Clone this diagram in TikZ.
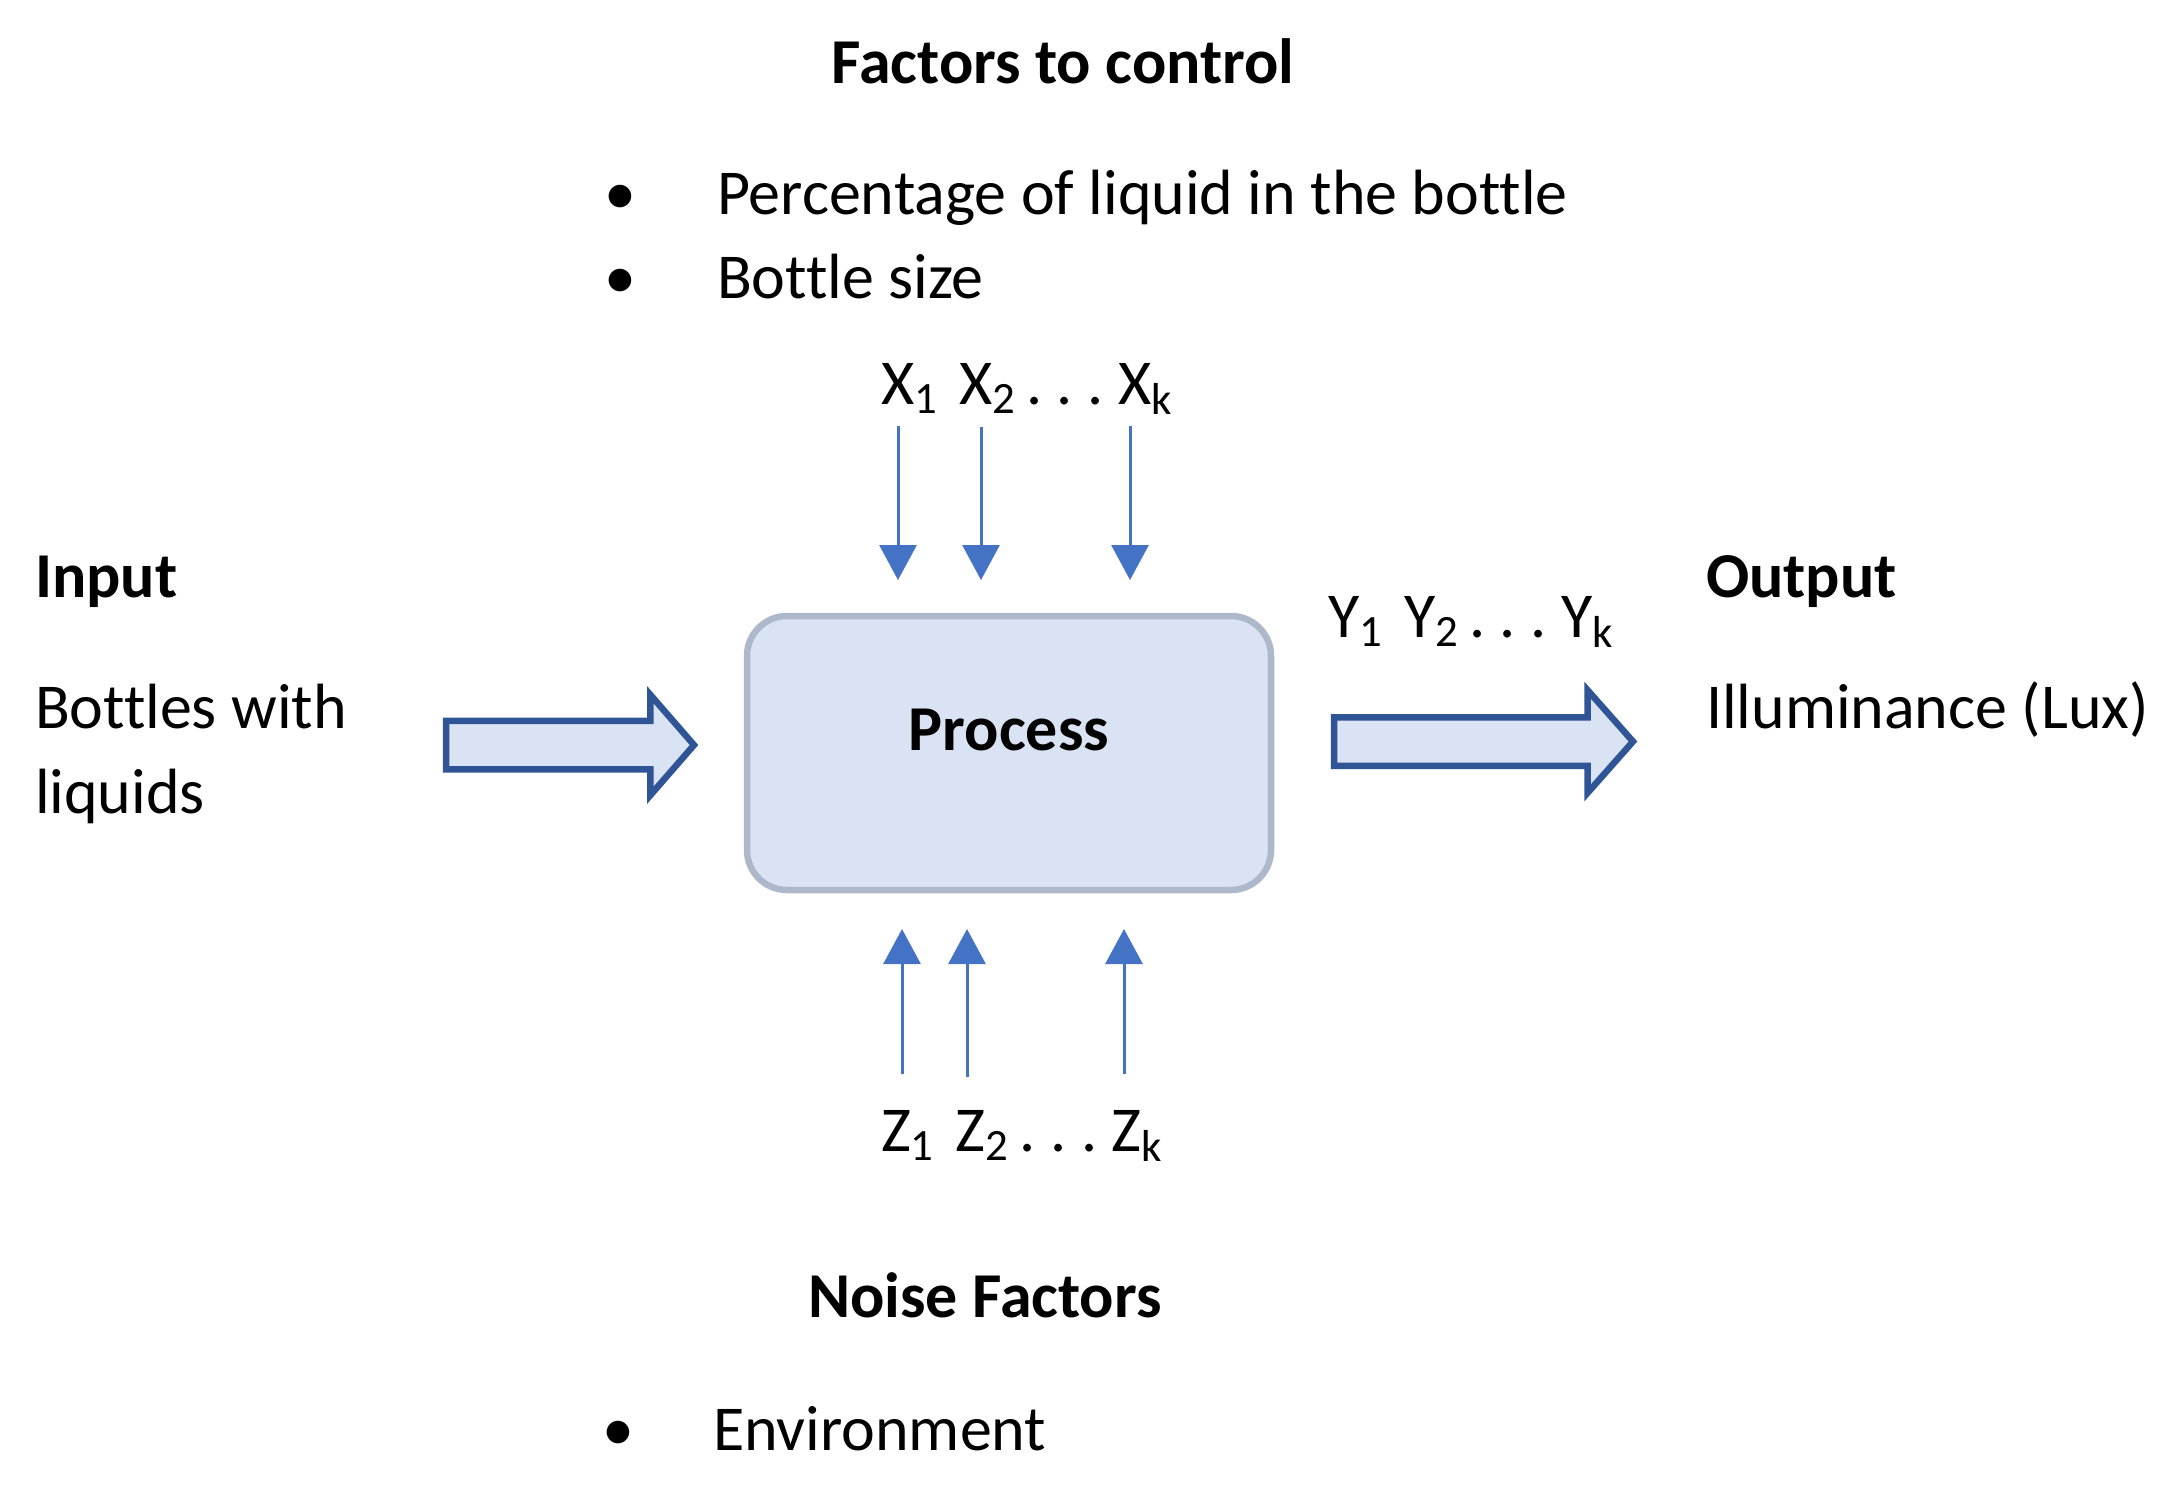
\documentclass[tikz,border=0pt]{standalone}
\usepackage{fontspec}
\setmainfont{Carlito}[Ligatures=NoCommon]
\usetikzlibrary{arrows.meta, shapes.arrows}

\definecolor{boxfill}{HTML}{DAE3F3}
\definecolor{boxline}{HTML}{ADB9CA}
\definecolor{fatline}{HTML}{2F5597}
\definecolor{factorblue}{HTML}{4472C4}

\begin{document}
\begin{tikzpicture}[font=\fontsize{18.2pt}{24pt}\selectfont, every node/.style={inner sep=0pt, outer sep=0pt, anchor=base west}, >={Triangle[width=0.37cm, length=0.35cm]},
	head/.style={font=\fontsize{18.2pt}{24pt}\selectfont\bfseries},
	factor/.style={->, color=factorblue, line width=0.85pt},
	fatarrow/.style={single arrow, draw=fatline, fill=boxfill, line width=1.85pt, anchor=tail, line join=miter, inner xsep=0pt, inner ysep=0.21cm},
	procbox/.style={draw=boxline, fill=boxfill, line width=1.85pt, rounded corners=0.4cm, minimum width=5.24cm, minimum height=2.74cm, anchor=center}]
	\useasboundingbox (0, 0) rectangle (21.71, -14.86);

	% Factors to control
	\node[head, anchor=base] (ctrltitle) at (10.63, -0.83) {Factors to control};
	\node[anchor=base] (dot1) at (6.20, -2.14) {•};
	\node (ctrl1) at (7.17, -2.14) {Percentage of liquid in the bottle};
	\node[anchor=base] (dot2) at (6.20, -2.98) {•};
	\node (ctrl2) at (7.17, -2.98) {Bottle size};
	\node (xlabels) at (8.81, -4.04) {X\textsubscript{1}\hspace{0.32em}X\textsubscript{2}\hspace{0.15em}.\ .\ .\ X\textsubscript{k}};
	\coordinate (x1) at (8.98, -4.26);
	\coordinate (x2) at (9.81, -4.27);
	\coordinate (xk) at (11.30, -4.26);

	% Input / Process / Output
	\node[head] (intitle) at (0.35, -5.97) {Input};
	\node (in1) at (0.35, -7.28) {Bottles with};
	\node (in2) at (0.35, -8.13) {liquids};
	\node[fatarrow, minimum height=2.48cm, single arrow head extend=0.26cm, single arrow tip angle=98] (inarrow) at (4.46, -7.45) {};
	\node[procbox] (proc) at (10.09, -7.53) {};
	\node[head, anchor=base] (proclabel) at (10.09, -7.50) {Process};
	\node (ylabels) at (13.28, -6.37) {Y\textsubscript{1}\hspace{0.32em}Y\textsubscript{2}\hspace{0.15em}.\ .\ .\ Y\textsubscript{k}};
	\node[fatarrow, minimum height=2.99cm, single arrow head extend=0.27cm, single arrow tip angle=97] (outarrow) at (13.34, -7.415) {};
	\node[head] (outtitle) at (17.06, -5.97) {Output};
	\node (out1) at (17.06, -7.28) {Illuminance (Lux)};

	% Noise factors
	\coordinate (z1) at (9.02, -10.74);
	\coordinate (z2) at (9.67, -10.77);
	\coordinate (zk) at (11.24, -10.74);
	\node (zlabels) at (8.81, -11.51) {Z\textsubscript{1}\hspace{0.32em}Z\textsubscript{2}\hspace{0.15em}.\ .\ .\ Z\textsubscript{k}};
	\node[head] (noisetitle) at (8.08, -13.17) {Noise Factors};
	\node[anchor=base] (dot3) at (6.18, -14.50) {•};
	\node (noise1) at (7.13, -14.50) {Environment};

	\draw[factor, shorten >=0.36cm] (x1) -- (x1 |- proc.north);
	\draw[factor, shorten >=0.36cm] (x2) -- (x2 |- proc.north);
	\draw[factor, shorten >=0.36cm] (xk) -- (xk |- proc.north);
	\draw[factor, shorten >=0.39cm] (z1) -- (z1 |- proc.south);
	\draw[factor, shorten >=0.39cm] (z2) -- (z2 |- proc.south);
	\draw[factor, shorten >=0.39cm] (zk) -- (zk |- proc.south);
\end{tikzpicture}
\end{document}
